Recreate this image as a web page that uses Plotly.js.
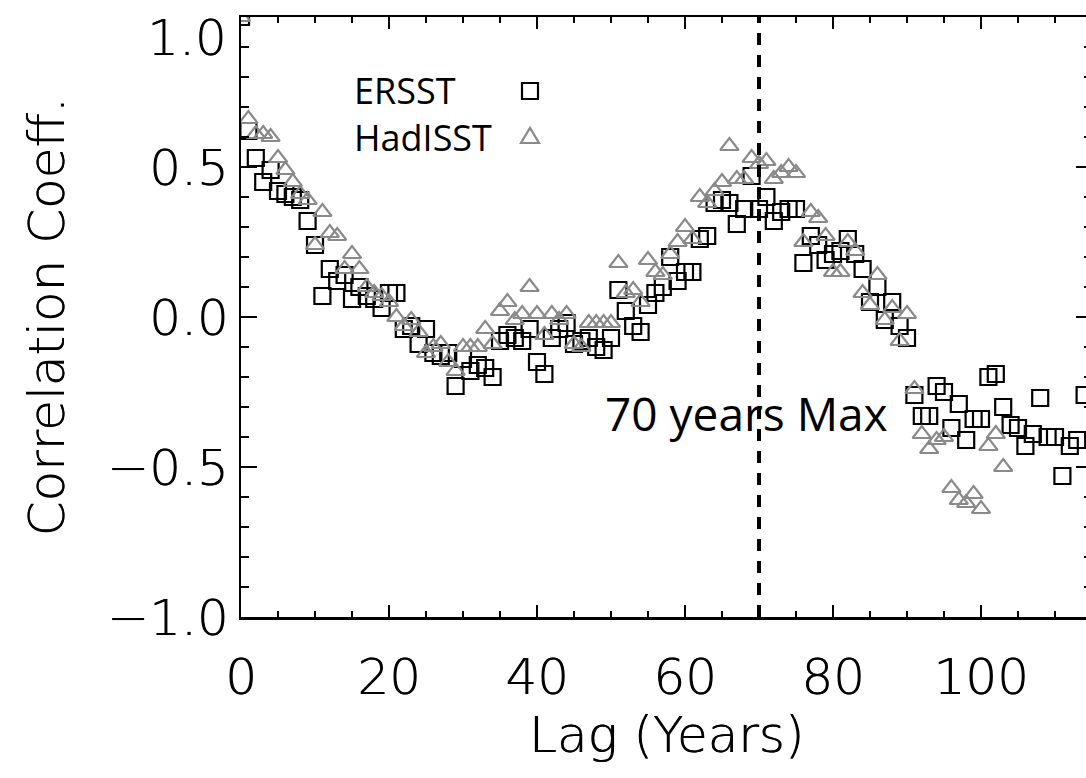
<!DOCTYPE html>
<html>
<head>
<meta charset="utf-8">
<script src="https://cdn.plot.ly/plotly-3.0.1.min.js"></script>
<style>
html,body{margin:0;padding:0;overflow:hidden;background:#fff;}
#chart{width:1100px;height:778px;}
</style>
</head>
<body>
<div id="chart"></div>
<script>
// ---- data ----
const ersstLag = [0,1,2,3,4,5,6,7,8,9,10,11,12,13,14,15,16,17,18,19,20,21,22,23,24,25,26,27,28,29,30,31,32,33,34,35,36,37,38,39,40,41,42,43,44,45,46,47,48,49,50,51,52,53,54,55,56,57,58,59,60,61,62,63,64,65,66,67,68,69,70,71,72,73,74,75,76,77,78,79,80,81,82,83,84,85,86,87,88,89,90,91,92,93,94,95,96,97,98,99,100,101,102,103,104,105,106,107,108,109,110,111,112,113,114];
const ersstR = [1.00,0.62,0.53,0.45,0.49,0.42,0.41,0.40,0.39,0.32,0.24,0.07,0.16,0.12,0.14,0.06,0.10,0.07,0.06,0.03,0.08,0.08,-0.04,-0.03,-0.09,-0.04,-0.12,-0.13,-0.12,-0.23,-0.14,-0.18,-0.16,-0.17,-0.20,-0.08,-0.06,-0.07,-0.08,-0.04,-0.15,-0.19,-0.07,-0.04,-0.02,-0.09,-0.08,-0.07,-0.10,-0.11,-0.07,0.09,0.02,-0.03,-0.05,0.04,0.08,0.10,0.20,0.12,0.15,0.15,0.26,0.27,0.38,0.39,0.38,0.31,0.36,0.47,0.36,0.40,0.32,0.35,0.36,0.36,0.18,0.27,0.24,0.19,0.21,0.22,0.26,0.21,0.16,0.05,0.10,-0.01,0.05,-0.03,-0.07,-0.26,-0.33,-0.33,-0.23,-0.25,-0.37,-0.29,-0.41,-0.34,-0.34,-0.20,-0.19,-0.30,-0.36,-0.37,-0.43,-0.39,-0.27,-0.40,-0.40,-0.53,-0.43,-0.41,-0.26];
const hadLag = [0,1,2,3,4,5,6,7,8,9,10,11,12,13,14,15,16,17,18,19,20,21,22,23,24,25,26,27,28,29,30,31,32,33,34,35,36,37,38,39,40,41,42,43,44,45,46,47,48,49,50,51,52,53,54,55,56,57,58,59,60,61,62,63,64,65,66,67,68,69,70,71,72,73,74,75,76,77,78,79,80,81,82,83,84,85,86,87,88,89,90,91,92,93,94,95,96,97,98,99,100,101,102,103];
const hadR = [1.00,0.66,0.61,0.61,0.60,0.53,0.49,0.45,0.41,0.39,0.24,0.35,0.28,0.27,0.16,0.21,0.16,0.10,0.08,0.07,0.05,0.00,-0.03,-0.01,-0.05,-0.12,-0.10,-0.09,-0.15,-0.18,-0.10,-0.10,-0.10,-0.04,-0.09,0.02,0.05,-0.01,0.01,0.10,0.01,-0.06,0.01,-0.01,0.01,-0.09,-0.10,-0.02,-0.02,-0.02,-0.02,0.18,0.08,0.09,0.05,0.19,0.15,0.14,0.21,0.25,0.30,0.26,0.40,0.38,0.42,0.45,0.57,0.46,0.46,0.53,0.51,0.52,0.46,0.48,0.50,0.48,0.25,0.35,0.33,0.27,0.15,0.15,0.25,0.22,0.08,0.04,0.14,-0.01,0.03,-0.08,0.01,-0.24,-0.39,-0.44,-0.41,-0.40,-0.57,-0.61,-0.62,-0.59,-0.64,-0.43,-0.39,-0.50];
const seriesNames = ['ERSST','HadISST'];
const maxLag = 70;
const maxLabel = '70 years Max';
const xTitle = 'Lag (Years)';
const yTitle = 'Correlation Coeff.';
const xTickVals = [0,20,40,60,80,100,120];
const yTickVals = [-1.0,-0.5,0.0,0.5,1.0];
const yTickText = ['\u22121.0','\u22120.5','0.0','0.5',''];
const yTopLabel = '1.0';

const tickFont = {family:'DejaVu Sans', size:50, color:'#000', weight:200, shadow:'0.6px 0 0 #000'};
const noteFont = {family:'Open Sans', size:46, color:'#000'};
const legFont = {family:'Open Sans', size:36, color:'#000'};
const gray = '#8a8a8a';

const traces = [
  {x:ersstLag, y:ersstR, type:'scatter', mode:'markers', name:seriesNames[0],
   marker:{symbol:'square-open', size:16, color:'#000', line:{width:2.2, color:'#000'}}},
  {x:hadLag, y:hadR, type:'scatter', mode:'markers', name:seriesNames[1],
   marker:{symbol:'triangle-up-open', size:16, color:gray, line:{width:2.2, color:gray}}}
];

const layout = {
  width:1100, height:778,
  margin:{l:241, r:8, t:17, b:161},
  paper_bgcolor:'#fff', plot_bgcolor:'#fff',
  showlegend:false,
  xaxis:{range:[0,115], tickvals:xTickVals, ticks:'inside', ticklen:12, tickwidth:2.5, tickcolor:'#000',
    showline:true, linewidth:2.5, linecolor:'#000', mirror:'allticks', showgrid:false, zeroline:false,
    tickfont:tickFont, ticklabelstandoff:14, layer:'above traces',
    minor:{dtick:5, ticks:'inside', ticklen:6, tickwidth:2, tickcolor:'#000', showgrid:false},
    title:{text:xTitle, font:tickFont, standoff:6}},
  yaxis:{range:[-1,1], tickvals:yTickVals, ticktext:yTickText, ticks:'inside', ticklen:16, tickwidth:2.5, tickcolor:'#000',
    showline:true, linewidth:2.5, linecolor:'#000', mirror:'allticks', showgrid:false, zeroline:false,
    tickfont:tickFont, ticklabelstandoff:0, ticklabeloverflow:'allow',
    minor:{dtick:0.1, ticks:'inside', ticklen:8, tickwidth:2, tickcolor:'#000', showgrid:false},
    title:{text:yTitle, font:tickFont, standoff:27}},
  shapes:[
    {type:'line', xref:'x', yref:'paper', x0:maxLag, x1:maxLag, y0:0, y1:1,
     line:{color:'#000', width:4, dash:'12px,10px'}},
    {type:'rect', xref:'paper', yref:'paper', x0:0.3302, x1:0.3490, y0:0.8633, y1:0.8900,
     line:{color:'#000', width:2.2}},
    {type:'path', xref:'paper', yref:'paper', path:'M0.3290,0.7900 L0.3502,0.7900 L0.3396,0.8150 Z',
     line:{color:gray, width:2.2}}
  ],
  annotations:[
    {xref:'paper', yref:'paper', x:0, y:1, xanchor:'right', yanchor:'top', xshift:-12, yshift:10,
     text:yTopLabel, showarrow:false, font:tickFont},
    {xref:'paper', yref:'paper', x:0.130, y:0.8384, xanchor:'left', yanchor:'middle', align:'left',
     text:seriesNames[0] + '<br>' + seriesNames[1], showarrow:false, font:legFont},
    {xref:'paper', yref:'paper', x:0.4254, y:0.34, xanchor:'left', yanchor:'middle', text:maxLabel, showarrow:false, font:noteFont}
  ]
};

Plotly.newPlot('chart', traces, layout, {staticPlot:true, displayModeBar:false}).then(function(gd){
  return Plotly.relayout(gd, {'xaxis.ticklen':12});
});
</script>
</body>
</html>
